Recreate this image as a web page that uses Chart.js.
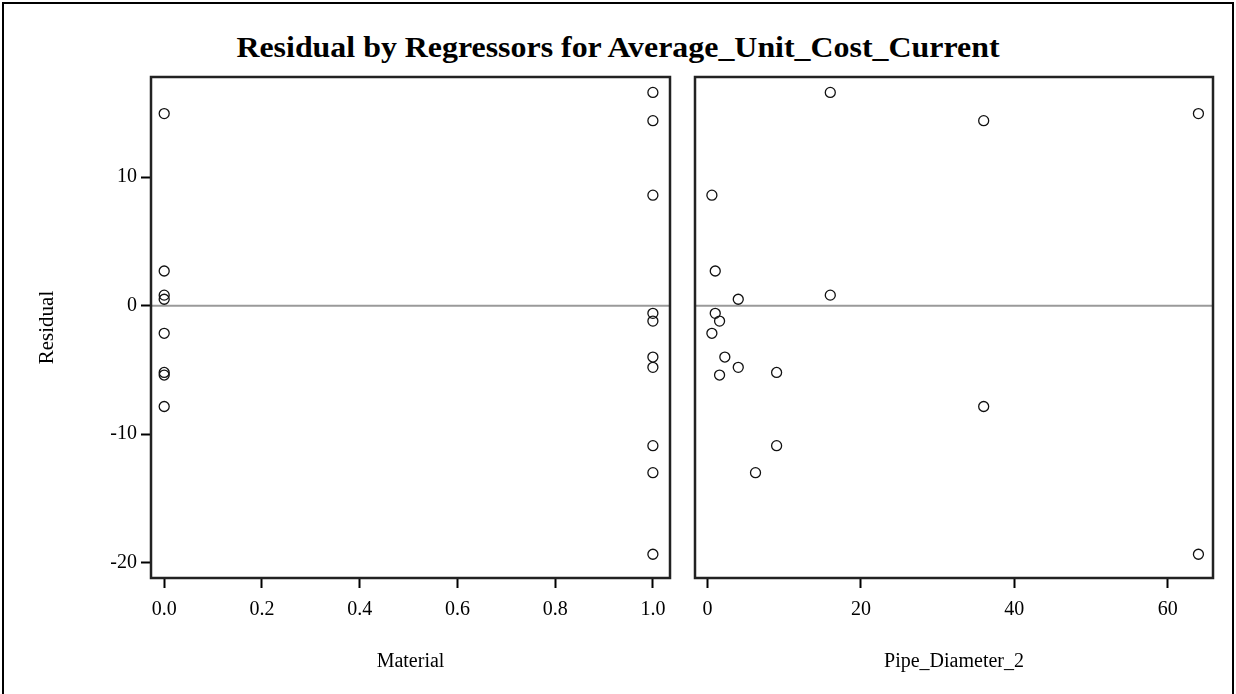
<!DOCTYPE html>
<html>
<head>
<meta charset="utf-8">
<script src="https://cdn.jsdelivr.net/npm/chart.js@4"></script>
<style>
  html, body { margin:0; padding:0; background:#fff; }
  #wrap { position:relative; width:1236px; height:694px; overflow:hidden; background:#fff; }
  #frame { position:absolute; left:2px; top:2px; width:1228px; height:700px; border:2px solid #000; }
  #title { position:absolute; left:0; top:30px; width:1236px; text-align:center; line-height:34px;
           font-family:'Liberation Serif','Times New Roman',serif; font-weight:bold; font-size:29px; color:#000;
           transform: scaleX(1.1); transform-origin: 618px 0; }
  canvas { position:absolute; left:0; top:0; }
</style>
</head>
<body>
<div id="wrap">
  <div id="frame"></div>
  <div id="title">Residual by Regressors for Average_Unit_Cost_Current</div>
  <canvas id="c1" width="1236" height="694"></canvas>
  <canvas id="c2" width="1236" height="694"></canvas>
</div>
<script>
// ---- data ----
const material      = [1, 1, 0, 1, 0, 0, 0, 1, 1, 0, 1, 1, 0, 0, 1, 1, 0, 1];
const pipeDiameter2 = [16, 36, 64, 0.5625, 1, 4, 16, 1, 1.5625, 0.5625, 2.25, 4, 1.5625, 9, 9, 6.25, 36, 64];
const residual      = [16.6, 14.4, 14.95, 8.6, 2.7, 0.5, 0.82, -0.6, -1.2, -2.15, -4.0, -4.8, -5.4, -5.2, -10.9, -13.0, -7.85, -19.35];
const yTicks        = [-20, -10, 0, 10];
const materialTicks = [0, 0.2, 0.4, 0.6, 0.8, 1.0];
const pipeTicks     = [0, 20, 40, 60];
const yTitle = 'Residual';
const xTitleLeft = 'Material';
const xTitleRight = 'Pipe_Diameter_2';

const SERIF = "'Liberation Serif','Times New Roman',serif";
const tickFont = { family: SERIF, size: 20 };
const titleFont = { family: SERIF, size: 20 };

const frameZero = {
  id: 'frameZero',
  beforeDatasetsDraw(chart) {
    const {ctx, chartArea: a, scales} = chart;
    const y0 = scales.y.getPixelForValue(0);
    ctx.save();
    ctx.strokeStyle = '#9a9a9a';
    ctx.lineWidth = 2;
    ctx.beginPath(); ctx.moveTo(a.left, y0); ctx.lineTo(a.right, y0); ctx.stroke();
    ctx.restore();
  },
  afterDraw(chart) {
    const {ctx, chartArea: a} = chart;
    ctx.save();
    ctx.strokeStyle = '#222';
    ctx.lineWidth = 2.5;
    ctx.strokeRect(a.left, a.top, a.right - a.left, a.bottom - a.top);
    ctx.restore();
  }
};

function setTicks(list) {
  return (scale) => { scale.ticks = list.map(v => ({ value: v })); };
}

function makeChart(id, xs, xMin, xMax, xTickList, xFmt, xTitle, showY, pad) {
  const pts = xs.map((x, i) => ({ x: x, y: residual[i] }));
  return new Chart(document.getElementById(id), {
    type: 'scatter',
    data: { datasets: [{
      data: pts,
      pointStyle: 'circle',
      pointRadius: 5,
      pointBorderWidth: 1.3,
      pointBorderColor: '#111',
      pointBackgroundColor: 'rgba(0,0,0,0)',
      pointHoverRadius: 5
    }]},
    options: {
      responsive: false,
      animation: false,
      devicePixelRatio: 1,
      events: [],
      layout: { padding: pad },
      plugins: { legend: { display: false }, tooltip: { enabled: false }, title: { display: false } },
      scales: {
        x: {
          type: 'linear', position: 'bottom', min: xMin, max: xMax,
          afterBuildTicks: setTicks(xTickList),
          afterFit: (s) => { s.height = 116; },
          border: { display: false },
          grid: { display: true, drawOnChartArea: false, drawTicks: true, tickLength: 10, tickColor: '#000', tickWidth: 2, color: '#000' },
          ticks: { color: '#000', font: tickFont, padding: 10, maxRotation: 0, autoSkip: false, callback: xFmt },
          title: { display: true, text: xTitle, color: '#000', font: titleFont, padding: { top: 0, bottom: 20 } }
        },
        y: {
          type: 'linear', position: 'left', min: -21.2, max: 17.8, display: showY,
          afterBuildTicks: setTicks(yTicks),
          afterFit: (s) => { s.width = showY ? 151 : 0; },
          border: { display: false },
          grid: { display: true, drawOnChartArea: false, drawTicks: true, tickLength: 10, tickColor: '#000', tickWidth: 2, color: '#000' },
          ticks: { color: '#000', font: tickFont, padding: 4, autoSkip: false, callback: (v) => String(v) },
          title: { display: true, text: yTitle, color: '#000', font: { family: SERIF, size: 21 }, padding: { top: 35, bottom: 0 } }
        }
      }
    },
    plugins: [frameZero]
  });
}

makeChart('c1', material, -0.027, 1.035, materialTicks, (v) => Number(v).toFixed(1), xTitleLeft, true,
          { left: 0, top: 77, right: 1236 - 670, bottom: 0 });
makeChart('c2', pipeDiameter2, -1.64, 65.9, pipeTicks, (v) => String(v), xTitleRight, false,
          { left: 695, top: 77, right: 1236 - 1213, bottom: 0 });
</script>
</body>
</html>
